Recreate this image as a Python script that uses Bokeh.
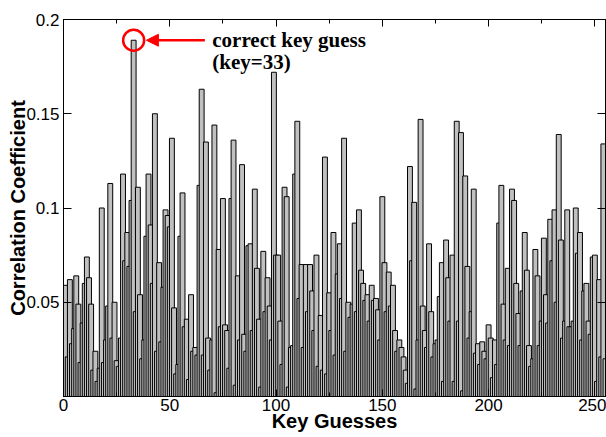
from bokeh.plotting import figure
from bokeh.models import (Range1d, LinearAxis, SingleIntervalTicker, FixedTicker,
                          Label, Arrow, NormalHead, CustomJSTickFormatter)
from bokeh.embed import file_html
from bokeh.resources import INLINE

# ---- data -------------------------------------------------------------
corr_000_031 = [0.030, 0.059, 0.021, 0.062, 0.028, 0.036, 0.064, 0.049,
                0.018, 0.039, 0.060, 0.074, 0.063, 0.049, 0.014, 0.024,
                0.008, 0.015, 0.100, 0.018, 0.030, 0.048, 0.113, 0.031,
                0.050, 0.019, 0.016, 0.031, 0.118, 0.072, 0.087, 0.069]
corr_032_063 = [0.104, 0.189, 0.045, 0.111, 0.054, 0.020, 0.030, 0.085,
                0.118, 0.091, 0.060, 0.150, 0.024, 0.071, 0.029, 0.058,
                0.099, 0.096, 0.090, 0.137, 0.047, 0.012, 0.017, 0.085,
                0.108, 0.037, 0.041, 0.009, 0.054, 0.024, 0.026, 0.022]
corr_064_095 = [0.112, 0.163, 0.022, 0.135, 0.031, 0.014, 0.030, 0.144,
                0.002, 0.078, 0.037, 0.105, 0.038, 0.035, 0.015, 0.105,
                0.136, 0.006, 0.064, 0.030, 0.123, 0.033, 0.024, 0.080,
                0.081, 0.035, 0.110, 0.068, 0.041, 0.005, 0.077, 0.045]
corr_096_127 = [0.063, 0.048, 0.030, 0.172, 0.075, 0.075, 0.040, 0.017,
                0.111, 0.106, 0.005, 0.026, 0.027, 0.118, 0.146, 0.052,
                0.070, 0.026, 0.070, 0.045, 0.070, 0.056, 0.035, 0.075,
                0.016, 0.043, 0.014, 0.127, 0.012, 0.055, 0.035, 0.087]
corr_128_159 = [0.022, 0.065, 0.081, 0.052, 0.137, 0.024, 0.050, 0.042,
                0.049, 0.092, 0.045, 0.099, 0.067, 0.060, 0.051, 0.054,
                0.040, 0.059, 0.051, 0.052, 0.046, 0.030, 0.106, 0.071,
                0.045, 0.066, 0.048, 0.059, 0.035, 0.024, 0.030, 0.026]
corr_160_191 = [0.021, 0.014, 0.007, 0.122, 0.072, 0.103, 0.004, 0.030,
                0.147, 0.048, 0.035, 0.026, 0.081, 0.045, 0.021, 0.028,
                0.030, 0.053, 0.071, 0.008, 0.083, 0.063, 0.040, 0.075,
                0.008, 0.146, 0.040, 0.140, 0.003, 0.117, 0.069, 0.031]
corr_192_223 = [0.045, 0.110, 0.023, 0.028, 0.017, 0.029, 0.024, 0.020,
                0.038, 0.031, 0.010, 0.030, 0.017, 0.092, 0.112, 0.049,
                0.030, 0.068, 0.027, 0.110, 0.104, 0.060, 0.044, 0.027,
                0.056, 0.087, 0.067, 0.027, 0.016, 0.020, 0.078, 0.064]
corr_224_255 = [0.027, 0.040, 0.084, 0.054, 0.039, 0.094, 0.072, 0.099,
                0.050, 0.139, 0.083, 0.031, 0.040, 0.099, 0.037, 0.037,
                0.040, 0.100, 0.076, 0.087, 0.030, 0.056, 0.060, 0.040,
                0.033, 0.074, 0.075, 0.008, 0.062, 0.021, 0.134, 0.020]

corr = (corr_000_031 + corr_032_063 + corr_064_095 + corr_096_127 +
        corr_128_159 + corr_160_191 + corr_192_223 + corr_224_255)
keys = list(range(len(corr)))
correct_key = 33

x_ticks_major = 50
y_ticks = [0, 0.05, 0.1, 0.15, 0.2]

# ---- figure -----------------------------------------------------------
p = figure(width=606, height=437, x_range=Range1d(0, 255), y_range=Range1d(0, 0.2),
           output_backend="svg", toolbar_location=None,
           min_border_left=63, min_border_right=1, min_border_top=19, min_border_bottom=41)
p.xgrid.visible = False
p.ygrid.visible = False
p.outline_line_color = "black"
p.outline_line_width = 1
p.background_fill_color = "white"
p.border_fill_color = "white"

p.vbar(x=keys, top=corr, width=2.3, bottom=0,
       fill_color="#c0c0c0", line_color="black", line_width=1)

FONT = "Liberation Sans"

xa = p.xaxis[0]
xa.ticker = SingleIntervalTicker(interval=x_ticks_major, num_minor_ticks=2)
xa.major_tick_in = 7
xa.major_tick_out = 0
xa.minor_tick_in = 4
xa.minor_tick_out = 0
xa.major_label_standoff = 2
xa.major_label_text_font = FONT
xa.major_label_text_font_size = "17px"
xa.major_label_text_color = "black"
xa.axis_line_color = "black"
xa.major_tick_line_color = "black"
xa.minor_tick_line_color = "black"
xa.axis_label = "Key Guesses"
xa.axis_label_standoff = -4
xa.axis_label_text_font = FONT
xa.axis_label_text_font_style = "bold"
xa.axis_label_text_font_size = "20px"
xa.axis_label_text_color = "black"

ya = p.yaxis[0]
ya.ticker = FixedTicker(ticks=y_ticks, minor_ticks=[])
ya.formatter = CustomJSTickFormatter(code="return tick == 0 ? '' : tick.toString();")
ya.major_tick_in = 8
ya.major_tick_out = 0
ya.major_label_standoff = 4
ya.major_label_text_font = FONT
ya.major_label_text_font_size = "17px"
ya.major_label_text_color = "black"
ya.axis_line_color = "black"
ya.axis_label = "Correlation Coefficient"
ya.axis_label_standoff = -6
ya.axis_label_text_font = FONT
ya.axis_label_text_font_style = "bold"
ya.axis_label_text_font_size = "20px"
ya.axis_label_text_color = "black"

blank = CustomJSTickFormatter(code="return '';")
top_axis = LinearAxis(ticker=SingleIntervalTicker(interval=x_ticks_major, num_minor_ticks=2),
                      formatter=blank, major_tick_in=7, major_tick_out=0,
                      minor_tick_in=4, minor_tick_out=0, major_label_standoff=0,
                      major_label_text_font_size="0px", axis_line_color="black")
p.add_layout(top_axis, "above")
right_axis = LinearAxis(ticker=FixedTicker(ticks=y_ticks, minor_ticks=[]),
                        formatter=blank, major_tick_in=8, major_tick_out=0,
                        minor_tick_in=0, minor_tick_out=0, major_label_standoff=0,
                        major_label_text_font_size="0px", axis_line_color="black")
p.add_layout(right_axis, "right")

# correct-key annotation
peak = corr[correct_key]
p.scatter(x=[correct_key], y=[peak], marker="circle", size=21,
          fill_color=None, line_color="red", line_width=2.5)
p.add_layout(Arrow(x_start=correct_key + 33.5, y_start=peak,
                   x_end=correct_key + 6, y_end=peak,
                   line_color="red", line_width=2.5,
                   end=NormalHead(size=12, fill_color="red", line_color="red")))
p.add_layout(Label(x=correct_key + 37, y=peak, text="correct key guess",
                   text_align="left", text_baseline="middle",
                   text_font="Liberation Serif", text_font_style="bold",
                   text_font_size="21px", text_color="black"))
p.add_layout(Label(x=correct_key + 37, y=peak - 0.0117, text=f"(key={correct_key})",
                   text_align="left", text_baseline="middle",
                   text_font="Liberation Serif", text_font_style="bold",
                   text_font_size="21px", text_color="black"))

open("out.html", "w").write(file_html(p, INLINE))
